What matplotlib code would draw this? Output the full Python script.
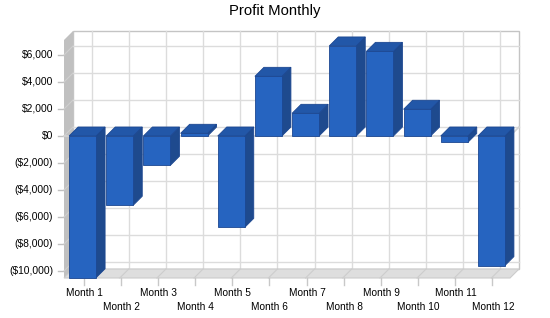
import matplotlib
matplotlib.use("Agg")
import matplotlib.pyplot as plt
from matplotlib.patches import Polygon

plt.rcParams['font.family'] = ['Liberation Sans', 'DejaVu Sans']

# ---- data ----
categories = ["Month 1", "Month 2", "Month 3", "Month 4", "Month 5", "Month 6",
              "Month 7", "Month 8", "Month 9", "Month 10", "Month 11", "Month 12"]
profit = [-10500, -5130, -2170, 200, -6770, 4420, 1680, 6670, 6270, 1980, -480, -9600]
yticks = [-10000, -8000, -6000, -4000, -2000, 0, 2000, 4000, 6000]
title = "Profit Monthly"

W, H = 550, 318
fig = plt.figure(figsize=(W / 100, H / 100), dpi=100)
fig.patch.set_facecolor("white")

# front plane in pixels
L, R, T, B = 64, 510, 40, 278
ax = fig.add_axes([L / W, (H - B) / H, (R - L) / W, (B - T) / H])
ymin, ymax = -10519, 7111
n = len(categories)
ax.set_xlim(-0.5, n - 0.5)
ax.set_ylim(ymin, ymax)
ax.axis("off")

pxx = (R - L) / n                 # pixels per category
pxy = (B - T) / (ymax - ymin)     # pixels per value unit
depth = 9
dx = depth / pxx
dy = depth / pxy

x0, x1 = -0.5, n - 0.5
# back wall
ax.add_patch(Polygon([(x0 + dx, ymin + dy), (x1 + dx, ymin + dy), (x1 + dx, ymax + dy), (x0 + dx, ymax + dy)],
                     closed=True, facecolor="white", edgecolor="#c4c4c4", lw=1, clip_on=False, zorder=1))
for v in yticks:
    ax.plot([x0 + dx, x1 + dx], [v + dy, v + dy], color="#dcdcdc", lw=1, clip_on=False, zorder=2)
for i in range(n):
    ax.plot([i + dx, i + dx], [ymin + dy, ymax + dy], color="#dcdcdc", lw=1, clip_on=False, zorder=2)

# left wall
ax.add_patch(Polygon([(x0, ymin), (x0, ymax), (x0 + dx, ymax + dy), (x0 + dx, ymin + dy)],
                     closed=True, facecolor="#c0c0c0", edgecolor="none", clip_on=False, zorder=3))
for v in yticks:
    ax.plot([x0, x0 + dx], [v, v + dy], color="#cfcfcf", lw=0.8, clip_on=False, zorder=3.5)

# floor
ax.add_patch(Polygon([(x0, ymin), (x1, ymin), (x1 + dx, ymin + dy), (x0 + dx, ymin + dy)],
                     closed=True, facecolor="#dedede", edgecolor="#cccccc", lw=0.8, clip_on=False, zorder=3))
for i in range(n):
    ax.plot([i, i + dx], [ymin, ymin + dy], color="#cdcdcd", lw=0.8, clip_on=False, zorder=3.5)

# zero line
ax.plot([x0, x1, x1 + dx], [0, 0, dy], color="#d4d4d4", lw=1.2, clip_on=False, zorder=4)

# bars
bw = 27 / pxx
front_c, side_c, top_c, edge_c = "#2664c0", "#1e4a8e", "#2257a8", "#1c4791"
for i, v in enumerate(profit):
    lo, hi = min(0, v), max(0, v)
    a, b = i - bw / 2, i + bw / 2
    z = 5 + i * 0.01
    ax.add_patch(Polygon([(b, lo), (b + dx, lo + dy), (b + dx, hi + dy), (b, hi)], closed=True,
                         facecolor=side_c, edgecolor=edge_c, lw=0.6, clip_on=False, zorder=z))
    ax.add_patch(Polygon([(a, hi), (b, hi), (b + dx, hi + dy), (a + dx, hi + dy)], closed=True,
                         facecolor=top_c, edgecolor=edge_c, lw=0.6, clip_on=False, zorder=z))
    ax.add_patch(Polygon([(a, lo), (b, lo), (b, hi), (a, hi)], closed=True,
                         facecolor=front_c, edgecolor=edge_c, lw=0.6, clip_on=False, zorder=z))

# y ticks and labels
def money(v):
    s = "${:,.0f}".format(abs(v))
    return "(" + s + ")" if v < 0 else s

tick_len = 6 / pxx
for v in yticks:
    ax.plot([x0 - tick_len, x0], [v, v], color="#c0c0c0", lw=1, clip_on=False, zorder=3)
    ax.annotate(money(v), xy=(x0, v), xytext=(-11, 0), textcoords="offset pixels",
                ha="right", va="center", fontsize=7.4, color="black", annotation_clip=False)

# x ticks and labels
tl = 7 / pxy
for i, c in enumerate(categories):
    ax.plot([i + 1 / pxx, i + 1 / pxx], [ymin, ymin - tl], color="#c8c8c8", lw=1, clip_on=False, zorder=3)
    off = -15 if i % 2 == 0 else -28.7
    ax.annotate(c, xy=(i, ymin), xytext=(1.5, off), textcoords="offset pixels",
                ha="center", va="center", fontsize=7.3, color="black", annotation_clip=False)

fig.text(274.5 / W, 1 - 11.5 / H, title, ha="center", va="center", fontsize=10.7, color="black")

fig.savefig("out.png", dpi=100, facecolor="white")
